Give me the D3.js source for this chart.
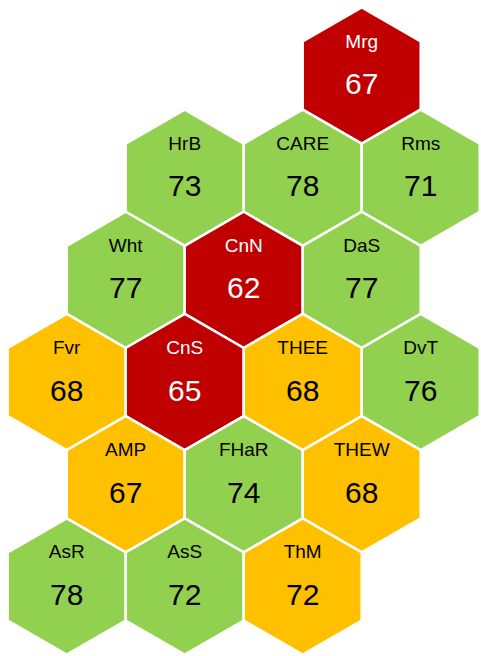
<!DOCTYPE html>
<html>
<head>
<meta charset="utf-8">
<script src="https://cdn.jsdelivr.net/npm/d3@7"></script>
<style>
  html, body { margin: 0; padding: 0; background: #fff; }
  svg { display: block; }
</style>
</head>
<body>
<svg id="chart" width="481" height="656"></svg>
<script>
// Tile labels, scores and status, listed row by row from top to bottom
const labels = ["Mrg", "HrB", "CARE", "Rms", "Wht", "CnN", "DaS", "Fvr", "CnS", "THEE", "DvT", "AMP", "FHaR", "THEW", "AsR", "AsS", "ThM"];
const scores = [67, 73, 78, 71, 77, 62, 77, 68, 65, 68, 76, 67, 74, 68, 78, 72, 72];
const statuses = ["red", "green", "green", "green", "green", "red", "green", "amber", "red", "amber", "green", "amber", "green", "amber", "green", "green", "amber"];
// Grid position of each tile: row, and half-column index
const rows = [0, 1, 1, 1, 2, 2, 2, 3, 3, 3, 3, 4, 4, 4, 5, 5, 5];
const halfCols = [5, 2, 4, 6, 1, 3, 5, 0, 2, 4, 6, 1, 3, 5, 0, 2, 4];

const tiles = labels.map((label, i) => ({
  label, score: scores[i], status: statuses[i], row: rows[i], hc: halfCols[i]
}));

const svg = d3.select("#chart");

const colStep = 59;             // half the width of a tile
const R = colStep * 2 / Math.sqrt(3);   // circumradius of pointy-top hexagon
const x = d3.scaleLinear().domain([0, 6]).range([66.7, 66.7 + 6 * colStep]);
const y = d3.scaleLinear().domain([0, 5]).range([75.5, 75.5 + 5 * 1.5 * R]);

const color = d3.scaleOrdinal()
  .domain(["red", "amber", "green"])
  .range(["#C00000", "#FFC000", "#92D050"]);
const textColor = d3.scaleOrdinal()
  .domain(["red", "amber", "green"])
  .range(["#ffffff", "#000000", "#000000"]);

const corners = d3.range(6).map(k => {
  const a = Math.PI / 180 * (60 * k - 90);
  return [R * Math.cos(a), R * Math.sin(a)];
});
const hexPath = d3.line().curve(d3.curveLinearClosed)(corners);

const g = svg.selectAll("g.tile")
  .data(tiles)
  .join("g")
  .attr("class", "tile")
  .attr("transform", d => `translate(${x(d.hc)},${y(d.row)})`);

g.append("path")
  .attr("d", hexPath)
  .attr("fill", d => color(d.status))
  .attr("stroke", "#ffffff")
  .attr("stroke-width", 2.5)
  .attr("stroke-linejoin", "miter");

g.append("text")
  .attr("text-anchor", "middle")
  .attr("y", -28)
  .attr("font-family", "'Liberation Sans', Arial, sans-serif")
  .attr("font-size", 19)
  .attr("fill", d => textColor(d.status))
  .text(d => d.label);

g.append("text")
  .attr("text-anchor", "middle")
  .attr("y", 18.5)
  .attr("font-family", "'Liberation Sans', Arial, sans-serif")
  .attr("font-size", 30)
  .attr("fill", d => textColor(d.status))
  .text(d => d.score);
</script>
</body>
</html>
